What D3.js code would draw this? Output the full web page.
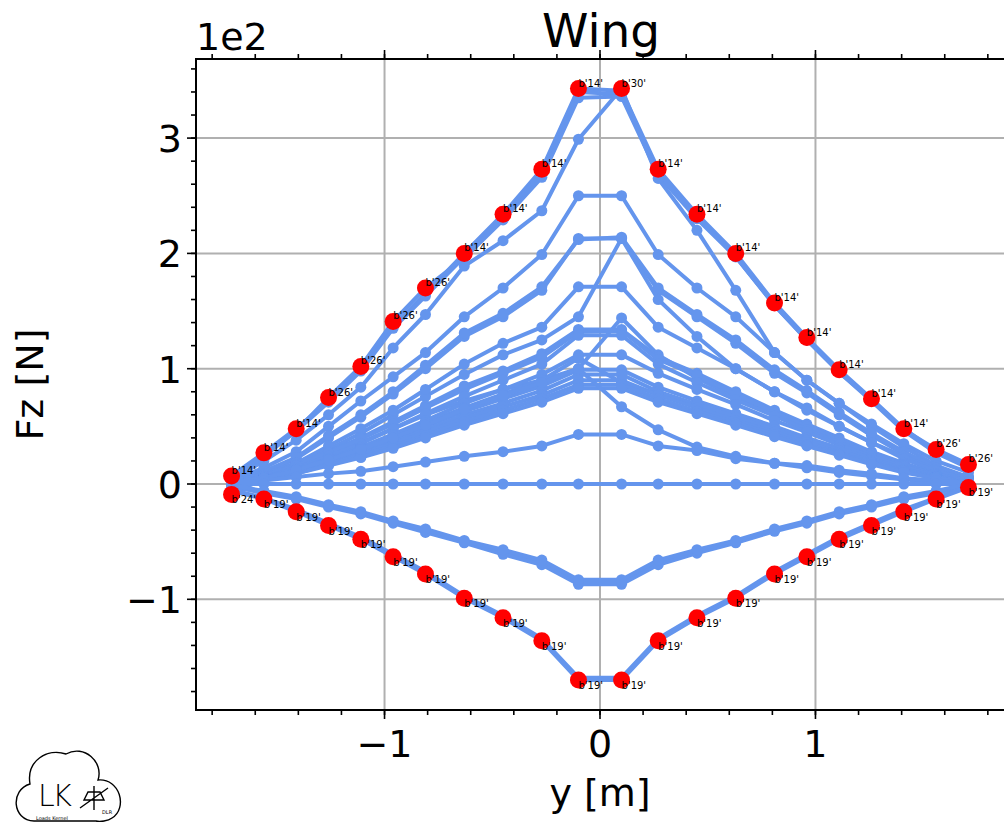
<!DOCTYPE html>
<html>
<head>
<meta charset="utf-8">
<script src="https://cdn.jsdelivr.net/npm/d3@7"></script>
<style>
  body { margin: 0; background: #fff; }
  svg { font-family: "DejaVu Sans", sans-serif; }
</style>
</head>
<body>
<div id="chart"></div>
<script>
'use strict';
// monitoring stations along the span [m]
const stations = [-1.71, -1.56, -1.41, -1.26, -1.11, -0.96, -0.81, -0.63, -0.45, -0.27, -0.10,
  0.10, 0.27, 0.45, 0.63, 0.81, 0.96, 1.11, 1.26, 1.41, 1.56, 1.71];

// load case ids, one per series below
const caseIds = [14, 27, 26, 30, 3, 4, 5, 6, 7, 8, 9, 10, 11, 12, 13, 24, 15, 16, 17, 18, 20, 1, 2,
  21, 25, 22, 23, 19];

// Fz per station [N], same order as caseIds
const fz14 = [7, 27, 48, 72, 99, 137, 165, 200, 234, 273, 343, 341, 273, 234, 200, 157, 127, 99, 74, 48, 28, 15];
const fz27 = [6, 25, 46, 71, 98, 135, 163, 197, 231, 270, 340, 338, 271, 232, 197, 155, 125, 97, 72, 46, 27, 14];
const fz26 = [5, 24, 46, 75, 102, 141, 170, 196, 229, 266, 335, 336, 268, 230, 197, 155, 125, 97, 73, 47, 30, 17];
const fz30 = [4, 20, 38, 60, 84, 118, 147, 189, 211, 237, 299, 343, 265, 220, 168, 114, 90, 70, 52, 35, 20, 10];
const fz03 = [3, 14, 28, 50, 72, 93, 114, 145, 170, 199, 250, 250, 199, 170, 145, 114, 90, 70, 50, 32, 16, 6];
const fz04 = [2, 10, 22, 40, 58, 78, 100, 128, 145, 168, 213, 213, 168, 145, 122, 96, 79, 60, 42, 26, 13, 5];
const fz05 = [2, 11, 23, 42, 60, 80, 103, 131, 148, 171, 212, 214, 170, 147, 125, 99, 81, 62, 44, 28, 14, 6];
const fz06 = [2, 8, 18, 30, 44, 60, 76, 95, 112, 125, 145, 213, 160, 128, 100, 80, 64, 50, 36, 24, 12, 4];
const fz07 = [2, 9, 18, 33, 48, 64, 82, 104, 122, 136, 171, 171, 136, 118, 100, 80, 66, 50, 36, 22, 11, 4];
const fz08 = [1, 6, 14, 25, 36, 48, 60, 72, 82, 90, 100, 144, 112, 92, 75, 60, 48, 36, 26, 16, 8, 3];
const fz09 = [2, 8, 17, 28, 40, 54, 68, 85, 98, 113, 134, 134, 110, 96, 80, 64, 52, 40, 28, 18, 9, 3];
const fz10 = [1, 7, 16, 27, 39, 52, 66, 82, 96, 110, 132, 133, 108, 94, 78, 62, 50, 38, 27, 17, 8, 3];
const fz11 = [1, 6, 14, 24, 35, 48, 61, 76, 90, 104, 129, 129, 104, 88, 73, 59, 47, 36, 26, 16, 8, 3];
const fz12 = [1, 6, 13, 22, 32, 43, 55, 70, 82, 95, 112, 112, 96, 82, 69, 55, 45, 34, 24, 15, 7, 2];
const fz13 = [1, 5, 12, 21, 31, 42, 53, 66, 78, 90, 109, 88, 78, 68, 58, 47, 38, 29, 20, 12, 6, 2];
const fz24 = [-9, 5, 11, 20, 29, 39, 50, 63, 74, 85, 99, 99, 84, 72, 61, 50, 40, 31, 22, 13, 6, 2];
const fz15 = [1, 5, 11, 19, 28, 37, 47, 60, 70, 81, 95, 95, 80, 69, 58, 47, 38, 29, 20, 12, 6, 2];
const fz16 = [0, 4, 10, 18, 26, 35, 45, 57, 67, 77, 90, 90, 77, 66, 55, 45, 36, 27, 19, 11, 5, 1];
const fz17 = [0, 4, 9, 17, 25, 33, 42, 54, 64, 74, 86, 86, 74, 63, 53, 43, 34, 26, 18, 11, 5, 1];
const fz18 = [0, 4, 9, 16, 23, 31, 40, 51, 61, 71, 83, 83, 71, 61, 51, 41, 33, 25, 17, 10, 5, 1];
const fz20 = [1, 5, 12, 21, 30, 40, 51, 65, 77, 88, 100, 67, 47, 32, 24, 18, 14, 10, 7, 4, 2, 1];
const fz01 = [1, 3, 6, 9, 11, 15, 19, 24, 28, 33, 43, 43, 33, 29, 22, 18, 16, 12, 9, 5, 3, 1];
const fz02 = [0, 0, 0, 0, 0, 0, 0, 0, 0, 0, 0, 0, 0, 0, 0, 0, 0, 0, 0, 0, 0, 0];
const fz21 = [-2, -7, -12, -19, -25, -33, -40, -50, -59, -68, -85, -85, -68, -58, -50, -40, -33, -25, -19, -12, -7, -1];
const fz25 = [-2, -8, -13, -20, -26, -34, -42, -51, -61, -70, -87, -87, -70, -60, -51, -41, -34, -26, -20, -13, -8, -1];
const fz22 = [-1, -6, -11, -18, -24, -32, -39, -49, -57, -66, -83, -83, -66, -57, -49, -39, -32, -24, -18, -11, -6, 0];
const fz23 = [-5, -12, -22, -34, -46, -61, -76, -97, -114, -134, -168, -168, -134, -114, -97, -76, -61, -46, -34, -22, -12, -2];
const fz19 = [-6, -13, -24, -36, -48, -63, -78, -99, -116, -136, -170, -170, -136, -116, -99, -78, -63, -48, -36, -24, -13, -3];

const series = [fz14, fz27, fz26, fz30, fz03, fz04, fz05, fz06, fz07, fz08, fz09, fz10, fz11, fz12,
  fz13, fz24, fz15, fz16, fz17, fz18, fz20, fz01, fz02, fz21, fz25, fz22, fz23, fz19];

const xTicks = [-1, 0, 1];
const yTicks = [-100, 0, 100, 200, 300];

const width = 1004, height = 822;
const lineColor = "#6495ed";

const svg = d3.select("#chart").append("svg")
  .attr("width", width)
  .attr("height", height);

const x = d3.scaleLinear().domain([-1.875, 1.875]).range([196, 1004]);
const y = d3.scaleLinear().domain([-196, 368.6]).range([710, 59]);
const axLeft = x.range()[0], axRight = x.range()[1];
const axTop = y.range()[1], axBottom = y.range()[0];

// grid
const grid = svg.append("g").attr("class", "grid");
grid.selectAll("line.gx").data(xTicks).join("line")
  .attr("class", "gx")
  .attr("x1", d => x(d)).attr("x2", d => x(d))
  .attr("y1", axTop).attr("y2", axBottom)
  .attr("stroke", "#b0b0b0").attr("stroke-width", 2);
grid.selectAll("line.gy").data(yTicks).join("line")
  .attr("class", "gy")
  .attr("x1", axLeft).attr("x2", axRight)
  .attr("y1", d => y(d)).attr("y2", d => y(d))
  .attr("stroke", "#b0b0b0").attr("stroke-width", 2);

// load case lines
const plot = svg.append("g");
const lineGen = d3.line()
  .x((d, i) => x(stations[i]))
  .y(d => y(d));

series.forEach(function (vals) {
  const g = plot.append("g");
  g.append("path")
    .attr("d", lineGen(vals))
    .attr("fill", "none")
    .attr("stroke", lineColor)
    .attr("stroke-width", 4)
    .attr("stroke-linejoin", "round");
  g.selectAll("circle").data(vals).join("circle")
    .attr("cx", (d, i) => x(stations[i]))
    .attr("cy", d => y(d))
    .attr("r", 5.5)
    .attr("fill", lineColor);
});

// envelope: max and min per station with load case label
const maxPts = stations.map(function (s, i) {
  let best = 0;
  series.forEach(function (vals, k) { if (vals[i] > series[best][i]) best = k; });
  return { s: s, v: series[best][i], id: caseIds[best] };
});
const minPts = stations.map(function (s, i) {
  let best = 0;
  series.forEach(function (vals, k) { if (vals[i] < series[best][i]) best = k; });
  return { s: s, v: series[best][i], id: caseIds[best] };
});

const env = svg.append("g");
env.selectAll("circle").data(maxPts.concat(minPts)).join("circle")
  .attr("cx", d => x(d.s))
  .attr("cy", d => y(d.v))
  .attr("r", 8.5)
  .attr("fill", "red");
env.selectAll("text.mx").data(maxPts).join("text")
  .attr("class", "mx")
  .attr("x", d => x(d.s))
  .attr("y", d => y(d.v) - 2)
  .attr("font-size", 10)
  .text(d => "b'" + d.id + "'");
env.selectAll("text.mn").data(minPts).join("text")
  .attr("class", "mn")
  .attr("x", d => x(d.s))
  .attr("y", d => y(d.v) + 9)
  .attr("font-size", 10)
  .text(d => "b'" + d.id + "'");

// axes frame and ticks
const frame = svg.append("g");
const xMinor = d3.range(-1.8, 1.81, 0.2).map(d => Math.round(d * 10) / 10);
const yMinor = d3.range(-180, 361, 20);

function tickLines(sel, vals, len, isX, edge, dir) {
  sel.append("g").selectAll("line").data(vals).join("line")
    .attr("x1", d => isX ? x(d) : edge)
    .attr("x2", d => isX ? x(d) : edge + dir * len)
    .attr("y1", d => isX ? edge : y(d))
    .attr("y2", d => isX ? edge + dir * len : y(d))
    .attr("stroke", "#000")
    .attr("stroke-width", 1.6);
}
tickLines(frame, xMinor, 5, true, axBottom, 1);
tickLines(frame, xTicks, 9, true, axBottom, 1);
tickLines(frame, xMinor, 5, true, axTop, -1);
tickLines(frame, xTicks, 9, true, axTop, -1);
tickLines(frame, yMinor, 5, false, axLeft, -1);
tickLines(frame, yTicks, 9, false, axLeft, -1);

frame.append("rect")
  .attr("x", axLeft).attr("y", axTop)
  .attr("width", axRight - axLeft + 4).attr("height", axBottom - axTop)
  .attr("fill", "none")
  .attr("stroke", "#000")
  .attr("stroke-width", 2);

// tick labels
frame.selectAll("text.xt").data(xTicks).join("text")
  .attr("class", "xt")
  .attr("x", d => x(d))
  .attr("y", 757)
  .attr("text-anchor", "middle")
  .attr("font-size", 38)
  .text(d => d < 0 ? "\u2212" + Math.abs(d) : d);
frame.selectAll("text.yt").data(yTicks).join("text")
  .attr("class", "yt")
  .attr("x", 182)
  .attr("y", d => y(d) + 14)
  .attr("text-anchor", "end")
  .attr("font-size", 38)
  .text(d => d < 0 ? "\u2212" + Math.abs(d / 100) : d / 100);

svg.append("text")
  .attr("x", 196).attr("y", 50)
  .attr("font-size", 38)
  .text("1e2");
svg.append("text")
  .attr("x", 601).attr("y", 47)
  .attr("text-anchor", "middle")
  .attr("font-size", 47)
  .text("Wing");
svg.append("text")
  .attr("x", 600).attr("y", 806)
  .attr("text-anchor", "middle")
  .attr("font-size", 38)
  .text("y [m]");
svg.append("text")
  .attr("transform", "translate(43," + ((axTop + axBottom) / 2) + ") rotate(-90)")
  .attr("text-anchor", "middle")
  .attr("font-size", 38)
  .text("Fz [N]");

// Loads Kernel logo
const logo = svg.append("g").attr("fill", "none").attr("stroke", "#000").attr("stroke-width", 1.4);
logo.append("path")
  .attr("d", "M 34 821 C 12 820 10 790 30 784 C 26 760 48 748 66 754 C 84 744 104 762 98 780 C 120 778 128 808 112 818 C 108 821 100 822 96 821 Z");
svg.append("text")
  .attr("x", 38).attr("y", 806)
  .attr("font-size", 30)
  .attr("font-weight", 300)
  .attr("textLength", 34)
  .text("LK");
logo.append("path")
  .attr("d", "M 80 808 L 108 788 M 84 800 L 104 800 L 100 792 L 88 792 Z M 94 786 L 94 810");
svg.append("text")
  .attr("x", 36).attr("y", 820)
  .attr("font-size", 5)
  .text("Loads Kernel");
svg.append("text")
  .attr("x", 102).attr("y", 814)
  .attr("font-size", 5)
  .text("DLR");
</script>
</body>
</html>
